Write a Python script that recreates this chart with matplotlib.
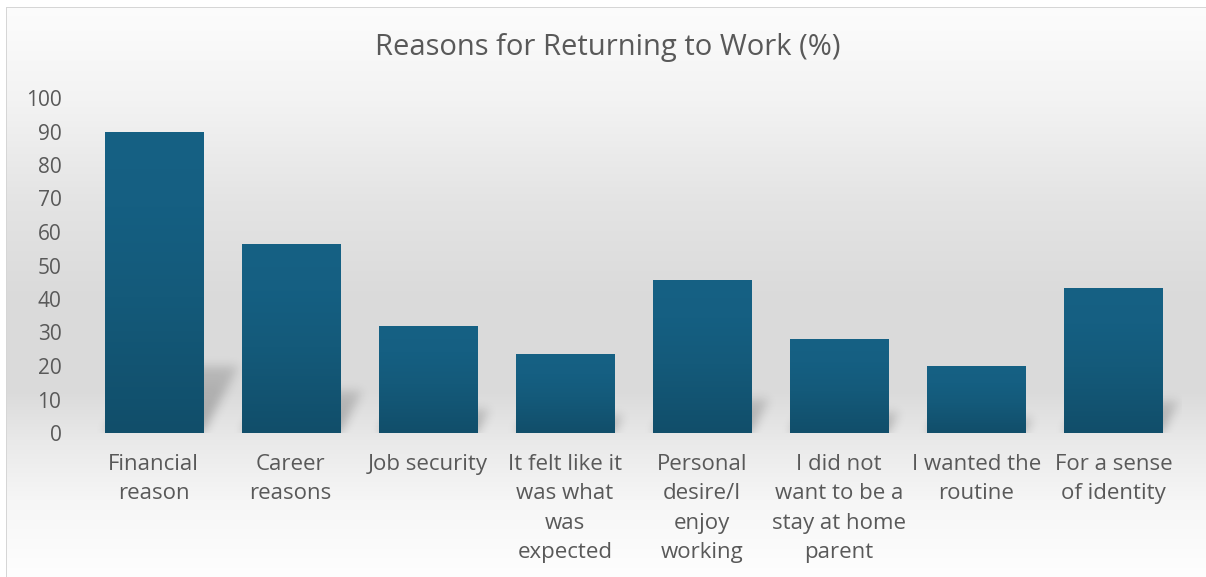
import numpy as np
import matplotlib
matplotlib.use("Agg")
import matplotlib.pyplot as plt
from matplotlib.colors import LinearSegmentedColormap

# ---------------- data ----------------
categories = [
    "Financial\nreason",
    "Career\nreasons",
    "Job security",
    "It felt like it\nwas what\nwas\nexpected",
    "Personal\ndesire/I\nenjoy\nworking",
    "I did not\nwant to be a\nstay at home\nparent",
    "I wanted the\nroutine",
    "For a sense\nof identity",
]
values = [90, 56.5, 32, 23.5, 45.8, 28, 20, 43.3]
yticks = list(range(0, 101, 10))
title = "Reasons for Returning to Work (%)"

# ---------------- style ----------------
FONT = ["Open Sans", "DejaVu Sans"]
TXT = "#595959"
W, H = 1206, 577
plt.rcParams["font.family"] = FONT

fig = plt.figure(figsize=(W / 100, H / 100), dpi=100)

# background gradient (full figure)
bg = fig.add_axes([0, 0, 1, 1], zorder=-10)
bg.axis("off")
ys_px = [0, 30, 100, 200, 300, 390, 440, 500, 577]
gray = [252, 250, 243, 228, 218, 218, 233, 246, 254]
col = np.interp(np.arange(H), ys_px, gray) / 255.0
img = np.repeat(col[:, None], W, axis=1)
img = np.dstack([img, img, img])
img[:7, :, :] = 1.0
img[:, :6, :] = 1.0
img[7, 6:, :] = 0.84
img[7:, 6, :] = 0.84
bg.imshow(img, extent=[0, 1, 0, 1], aspect="auto", interpolation="nearest")
bg.set_xlim(0, 1)
bg.set_ylim(0, 1)

# main axes
left_px, right_px = 85, 1182
top_px, bot_px = 98, 433
ax = fig.add_axes([left_px / W, (H - bot_px) / H, (right_px - left_px) / W, (bot_px - top_px) / H])
ax.set_facecolor("none")
ax.set_xlim(-0.5, len(categories) - 0.5)
ax.set_ylim(0, 100)
for s in ax.spines.values():
    s.set_visible(False)

bw = 0.715
x = np.arange(len(categories))

# ---- perspective shadows (rasterised + blurred) ----
nx, ny = right_px - left_px, bot_px - top_px
xs = np.linspace(-0.5, len(categories) - 0.5, nx)
yv = np.linspace(0, 100, ny)
XX, YY = np.meshgrid(xs, yv)
sh = np.zeros_like(XX)
k = 0.0132
for xi, v in zip(x, values):
    h = 0.22 * v
    m = (YY <= h) & (XX >= xi - bw / 2 + k * YY) & (XX <= xi + bw / 2 + k * YY)
    sh[m] = np.maximum(sh[m], (1 - 0.45 * YY[m] / h))

def blur(a, sigma, axis):
    r = int(3 * sigma)
    t = np.arange(-r, r + 1)
    ker = np.exp(-t ** 2 / (2 * sigma ** 2))
    ker /= ker.sum()
    return np.apply_along_axis(lambda row: np.convolve(row, ker, mode="same"), axis, a)

sh = blur(sh, 5, 1)
sh = blur(sh, 5, 0)
rgba = np.zeros((ny, nx, 4))
rgba[..., 3] = 0.27 * sh
ax.imshow(rgba, extent=[-0.5, len(categories) - 0.5, 0, 100], origin="lower",
          aspect="auto", zorder=1, interpolation="bilinear")

# ---- bars with vertical gradient ----
cmap = LinearSegmentedColormap.from_list(
    "bar", [(0.0, "#114e6a"), (0.45, "#145a7a"), (0.75, "#155f82"), (1.0, "#166184")])
grad = np.linspace(0, 1, 256)[:, None]
bars = ax.bar(x, values, width=bw, color="#155a7b", zorder=2, linewidth=0)
for b in bars:
    bx, by = b.get_x(), b.get_y()
    im = ax.imshow(grad, extent=[bx, bx + b.get_width(), by, by + b.get_height()],
                   origin="lower", aspect="auto", cmap=cmap, zorder=3)
    im.set_clip_path(b)

ax.set_xlim(-0.5, len(categories) - 0.5)
ax.set_ylim(0, 100)

# ticks
ax.set_yticks(yticks)
ax.set_yticklabels([str(t) for t in yticks], fontsize=15, color=TXT)
ax.set_xticks(x)
ax.set_xticklabels(categories, fontsize=16, color=TXT, linespacing=1.53)
ax.tick_params(axis="y", length=0, pad=17)
ax.tick_params(axis="x", length=0, pad=15)

fig.text(608 / W, 1 - 47 / H, title, ha="center", va="center", fontsize=21, color=TXT)

fig.savefig("out.png", dpi=100)
